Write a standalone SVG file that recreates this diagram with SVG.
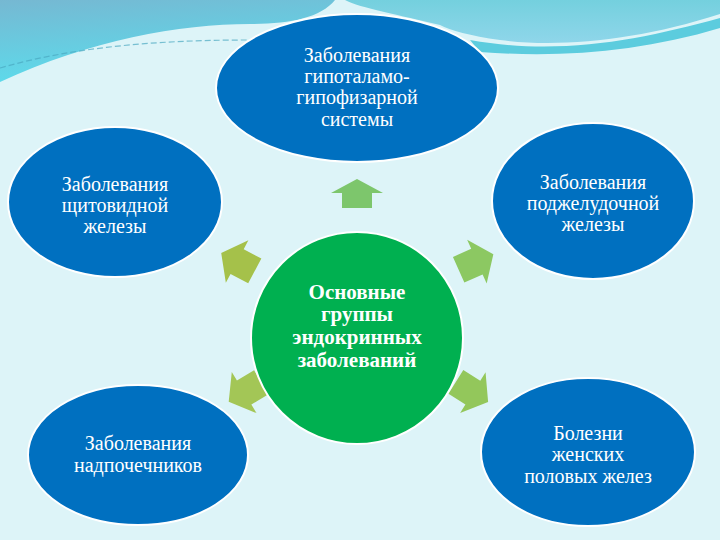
<svg xmlns="http://www.w3.org/2000/svg" width="720" height="540" viewBox="0 0 720 540">
<defs>
<linearGradient id="gl" x1="0" y1="0" x2="0.3" y2="1">
<stop offset="0" stop-color="#76B8D2"/>
<stop offset="1" stop-color="#5CDCEC"/>
</linearGradient>
<linearGradient id="gr" x1="0" y1="0" x2="0" y2="1">
<stop offset="0" stop-color="#74D0DE"/>
<stop offset="1" stop-color="#8FD6EA"/>
</linearGradient>
<style>
.e{fill:#0070C0;stroke:#FFFFFF;stroke-width:2}
.c{fill:#00B050;stroke:#FFFFFF;stroke-width:2}
.t{font-family:'Liberation Serif','DejaVu Serif',serif;font-size:20px;fill:#FFFFFF;text-anchor:middle}
.b{font-family:'Liberation Serif','DejaVu Serif',serif;font-size:21px;font-weight:bold;fill:#FFFFFF;text-anchor:middle}
</style>
<path id="arw" d="M0,-19 L24,-1 L14,-1 L14,19 L-14,19 L-14,-1 L-24,-1 Z"/>
</defs>
<rect x="0" y="0" width="720" height="540" fill="#DDF4F8"/>
<path d="M0,0 L335,0 C320,18 290,24 250,24 C180,24 90,40 0,82 Z" fill="url(#gl)"/>
<path d="M0,68 C80,45 170,40 250,40" fill="none" stroke="#4AA8C0" stroke-width="1.2" stroke-dasharray="6 3" opacity="0.7"/>
<path d="M470,40 C560,56 640,40 720,18 L720,28 C640,52 560,58 480,52 Z" fill="#5CCCDE"/>
<path d="M345,0 L720,0 L720,14 C640,40 560,48 500,40 C470,36 450,30 440,25 C400,15 360,8 345,0 Z" fill="url(#gr)"/>
<g id="connectors">
<path d="M357,179 L383,193 L372,193 L372,208 L342,208 L342,193 L331,193 Z" fill="#7DC66C"/>
<use href="#arw" transform="translate(238,262) rotate(-62)" fill="#A5C14A"/>
<use href="#arw" transform="translate(476,262) rotate(66)" fill="#8CC862"/>
<use href="#arw" transform="translate(245,392) rotate(-121)" fill="#A3C656"/>
<use href="#arw" transform="translate(472,392) rotate(122)" fill="#93C75B"/>
</g>
<g id="n-top">
<ellipse class="e" cx="357" cy="88" rx="141" ry="74"/>
<text class="t" x="357" y="62">Заболевания</text>
<text class="t" x="357" y="83">гипоталамо-</text>
<text class="t" x="357" y="104">гипофизарной</text>
<text class="t" x="357" y="126">системы</text>
</g>
<g id="n-left">
<ellipse class="e" cx="115" cy="202" rx="107" ry="75"/>
<text class="t" x="115" y="191">Заболевания</text>
<text class="t" x="115" y="212">щитовидной</text>
<text class="t" x="115" y="233">железы</text>
</g>
<g id="n-right">
<ellipse class="e" cx="593" cy="201" rx="101" ry="78"/>
<text class="t" x="593" y="189">Заболевания</text>
<text class="t" x="593" y="210">поджелудочной</text>
<text class="t" x="593" y="231">железы</text>
</g>
<g id="n-bl">
<ellipse class="e" cx="138" cy="455" rx="110" ry="70"/>
<text class="t" x="138" y="450">Заболевания</text>
<text class="t" x="138" y="472">надпочечников</text>
</g>
<g id="n-br">
<ellipse class="e" cx="588" cy="452" rx="107" ry="74"/>
<text class="t" x="588" y="440">Болезни</text>
<text class="t" x="588" y="461">женских</text>
<text class="t" x="588" y="483">половых желез</text>
</g>
<g id="n-center">
<circle class="c" cx="357" cy="338" r="106"/>
<text class="b" x="357" y="299">Основные</text>
<text class="b" x="357" y="321">группы</text>
<text class="b" x="357" y="344">эндокринных</text>
<text class="b" x="357" y="367">заболеваний</text>
</g>
</svg>
